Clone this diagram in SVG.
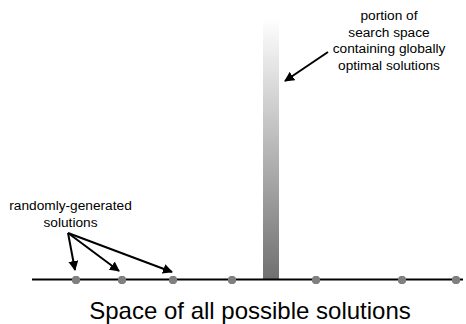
<svg xmlns="http://www.w3.org/2000/svg" width="466" height="324" viewBox="0 0 466 324">
<style>
.t{font-family:"Liberation Sans",Arial,sans-serif;font-size:13.7px;fill:#000;text-anchor:middle}
.big{font-family:"Liberation Sans",Arial,sans-serif;font-size:24px;fill:#000;text-anchor:middle}
.arr{stroke:#000;stroke-width:2;fill:none;marker-end:url(#ah)}
.dot{fill:#808080}
</style>
<defs>
<linearGradient id="g" x1="0" y1="0" x2="0" y2="1">
<stop offset="0" stop-color="#ffffff"/>
<stop offset="1" stop-color="#707070"/>
</linearGradient>
<marker id="ah" viewBox="0 0 10 10" refX="9" refY="5" markerWidth="5" markerHeight="5" orient="auto" markerUnits="strokeWidth">
<path d="M0,0 L10,5 L0,10 z" fill="#000"/>
</marker>
<path id="d" d="M-4,-2 L-2,-4 L2,-4 L4,-2 L4,2 L2,4 L-2,4 L-4,2 z"/>
</defs>
<rect width="466" height="324" fill="#fff"/>
<g id="optimal-region">
<rect x="263" y="18" width="16" height="261" fill="url(#g)"/>
</g>
<g id="axis">
<line x1="32" y1="279.5" x2="463" y2="279.5" stroke="#000" stroke-width="2"/>
</g>
<g id="solutions">
<use href="#d" class="dot" x="76" y="280"/>
<use href="#d" class="dot" x="122" y="280"/>
<use href="#d" class="dot" x="173" y="280"/>
<use href="#d" class="dot" x="232" y="280"/>
<use href="#d" class="dot" x="316" y="280"/>
<use href="#d" class="dot" x="402" y="280"/>
<use href="#d" class="dot" x="456" y="280"/>
</g>
<g id="label-optimal">
<text class="t" x="389" y="20">portion of</text>
<text class="t" x="389" y="36.5">search space</text>
<text class="t" x="389" y="53">containing globally</text>
<text class="t" x="389" y="69.5">optimal solutions</text>
</g>
<g id="label-random">
<text class="t" x="70.5" y="210">randomly-generated</text>
<text class="t" x="70.5" y="226.5">solutions</text>
</g>
<g id="label-space">
<text class="big" x="250" y="319">Space of all possible solutions</text>
</g>
<g id="connectors">
<line class="arr" x1="328" y1="52" x2="285" y2="81"/>
<line class="arr" x1="68" y1="233" x2="75" y2="270"/>
<line class="arr" x1="68" y1="233" x2="119" y2="271"/>
<line class="arr" x1="68" y1="233" x2="172" y2="272"/>
</g>
</svg>
